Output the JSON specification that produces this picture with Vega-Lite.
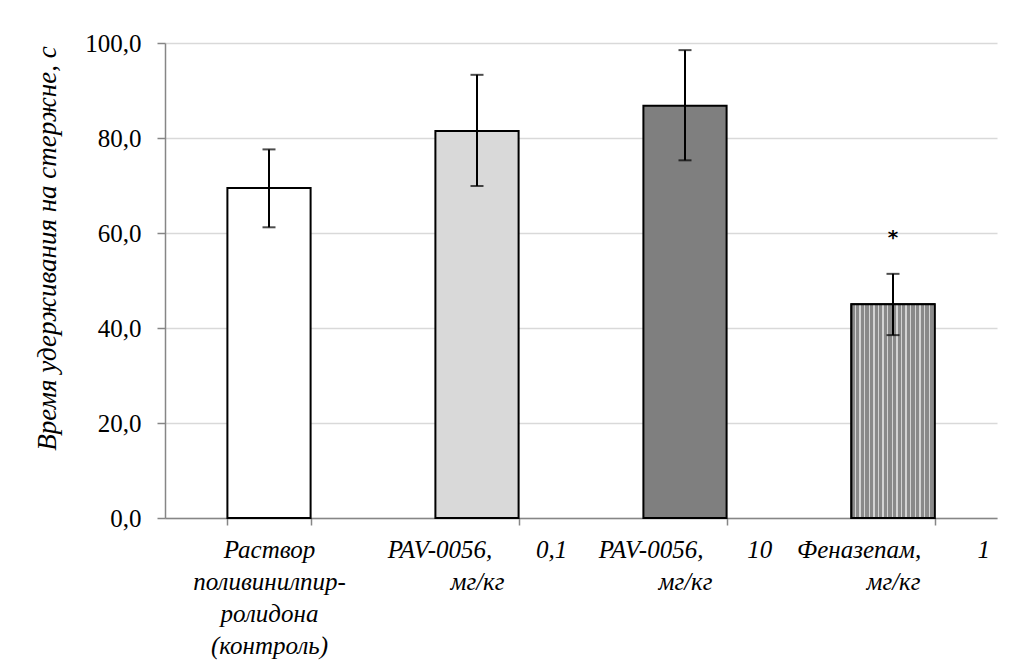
{
  "$schema": "https://vega.github.io/schema/vega-lite/v6.json",
  "width": 832,
  "height": 475,
  "autosize": {"type": "none"},
  "padding": {"left": 165, "top": 43, "right": 16, "bottom": 148},
  "background": "white",
  "data": {
    "values": [
      {"group": "g1", "mean": 69.5, "lo": 61.2, "hi": 77.6, "sig": null},
      {"group": "g2", "mean": 81.5, "lo": 69.9, "hi": 93.3, "sig": null},
      {"group": "g3", "mean": 86.8, "lo": 75.3, "hi": 98.5, "sig": null},
      {"group": "g4", "mean": 45.0, "lo": 38.5, "hi": 51.4, "sig": 60.0}
    ]
  },
  "encoding": {
    "x": {
      "field": "group",
      "type": "nominal",
      "sort": null,
      "scale": {"paddingInner": 0.6, "paddingOuter": 0.3},
      "axis": {
        "title": null,
        "labelExpr": "datum.value == 'g1' ? ['Раствор', 'поливинилпир-', 'ролидона', '(контроль)'] : datum.value == 'g2' ? ['PAV-0056,\u00a0\u00a0\u00a0\u00a0\u00a0\u00a0\u00a00,1', 'мг/кг'] : datum.value == 'g3' ? ['PAV-0056,\u00a0\u00a0\u00a0\u00a0\u00a0\u00a0\u00a010', 'мг/кг'] : datum.value == 'g4' ? ['Феназепам,\u00a0\u00a0\u00a0\u00a0\u00a0\u00a0\u00a0\u00a0\u00a01', 'мг/кг'] : ''",
        "labelAngle": 0,
        "labelFont": "serif",
        "labelFontStyle": "italic",
        "labelFontSize": 25,
        "labelColor": "black",
        "labelLineHeight": 32,
        "labelPadding": 12,
        "labelBaseline": "top",
        "labelLimit": 0,
        "labelOverlap": false,
        "labelBound": false,
        "tickBand": "extent",
        "tickSize": 7,
        "tickColor": "#868686",
        "domainColor": "#868686",
        "domainWidth": 1.5,
        "tickWidth": 1.5,
        "grid": false
      }
    }
  },
  "layer": [
    {
      "mark": {"type": "bar", "stroke": "black", "strokeWidth": 2},
      "encoding": {
        "y": {
          "field": "mean",
          "type": "quantitative",
          "scale": {"domain": [0, 100]},
          "axis": {
            "title": "Время удерживания на стержне, с",
            "titleFontSize": 27,
            "titleColor": "black",
            "titleY": 205,
            "titlePadding": 23,
            "values": [0, 20, 40, 60, 80, 100],
            "labelExpr": "replace(format(datum.value, '.1f'), '.', ',')",
            "labelFont": "Liberation Serif",
            "labelFontSize": 25,
            "labelColor": "black",
            "labelPadding": 16,
            "tickSize": 8,
            "tickColor": "#868686",
            "tickWidth": 1.5,
            "domainColor": "#868686",
            "domainWidth": 1.5,
            "gridColor": "#d9d9d9",
            "gridWidth": 1.5
          }
        },
        "fill": {
          "field": "group",
          "type": "nominal",
          "scale": {"domain": ["g1", "g2", "g3", "g4"], "range": ["#ffffff", "#d9d9d9", "#7f7f7f", "#a3a3a3"]},
          "legend": null
        }
      }
    },
    {
      "transform": [{"filter": "datum.group == 'g4'"}],
      "mark": {
        "type": "bar",
        "stroke": "black",
        "strokeWidth": 2,
        "fill": {
          "gradient": "linear", "x1": 0, "x2": 1, "y1": 0, "y2": 0,
          "stops": [
            {"offset": 0.0, "color": "#8a8a8a"}, {"offset": 0.0389, "color": "#8a8a8a"}, {"offset": 0.0389, "color": "#d4d4d4"}, {"offset": 0.0556, "color": "#d4d4d4"},
            {"offset": 0.0556, "color": "#8a8a8a"}, {"offset": 0.0944, "color": "#8a8a8a"}, {"offset": 0.0944, "color": "#d4d4d4"}, {"offset": 0.1111, "color": "#d4d4d4"},
            {"offset": 0.1111, "color": "#8a8a8a"}, {"offset": 0.15, "color": "#8a8a8a"}, {"offset": 0.15, "color": "#d4d4d4"}, {"offset": 0.1667, "color": "#d4d4d4"},
            {"offset": 0.1667, "color": "#8a8a8a"}, {"offset": 0.2056, "color": "#8a8a8a"}, {"offset": 0.2056, "color": "#d4d4d4"}, {"offset": 0.2222, "color": "#d4d4d4"},
            {"offset": 0.2222, "color": "#8a8a8a"}, {"offset": 0.2611, "color": "#8a8a8a"}, {"offset": 0.2611, "color": "#d4d4d4"}, {"offset": 0.2778, "color": "#d4d4d4"},
            {"offset": 0.2778, "color": "#8a8a8a"}, {"offset": 0.3167, "color": "#8a8a8a"}, {"offset": 0.3167, "color": "#d4d4d4"}, {"offset": 0.3333, "color": "#d4d4d4"},
            {"offset": 0.3333, "color": "#8a8a8a"}, {"offset": 0.3722, "color": "#8a8a8a"}, {"offset": 0.3722, "color": "#d4d4d4"}, {"offset": 0.3889, "color": "#d4d4d4"},
            {"offset": 0.3889, "color": "#8a8a8a"}, {"offset": 0.4278, "color": "#8a8a8a"}, {"offset": 0.4278, "color": "#d4d4d4"}, {"offset": 0.4444, "color": "#d4d4d4"},
            {"offset": 0.4444, "color": "#8a8a8a"}, {"offset": 0.4833, "color": "#8a8a8a"}, {"offset": 0.4833, "color": "#d4d4d4"}, {"offset": 0.5, "color": "#d4d4d4"},
            {"offset": 0.5, "color": "#8a8a8a"}, {"offset": 0.5389, "color": "#8a8a8a"}, {"offset": 0.5389, "color": "#d4d4d4"}, {"offset": 0.5556, "color": "#d4d4d4"},
            {"offset": 0.5556, "color": "#8a8a8a"}, {"offset": 0.5944, "color": "#8a8a8a"}, {"offset": 0.5944, "color": "#d4d4d4"}, {"offset": 0.6111, "color": "#d4d4d4"},
            {"offset": 0.6111, "color": "#8a8a8a"}, {"offset": 0.65, "color": "#8a8a8a"}, {"offset": 0.65, "color": "#d4d4d4"}, {"offset": 0.6667, "color": "#d4d4d4"},
            {"offset": 0.6667, "color": "#8a8a8a"}, {"offset": 0.7056, "color": "#8a8a8a"}, {"offset": 0.7056, "color": "#d4d4d4"}, {"offset": 0.7222, "color": "#d4d4d4"},
            {"offset": 0.7222, "color": "#8a8a8a"}, {"offset": 0.7611, "color": "#8a8a8a"}, {"offset": 0.7611, "color": "#d4d4d4"}, {"offset": 0.7778, "color": "#d4d4d4"},
            {"offset": 0.7778, "color": "#8a8a8a"}, {"offset": 0.8167, "color": "#8a8a8a"}, {"offset": 0.8167, "color": "#d4d4d4"}, {"offset": 0.8333, "color": "#d4d4d4"},
            {"offset": 0.8333, "color": "#8a8a8a"}, {"offset": 0.8722, "color": "#8a8a8a"}, {"offset": 0.8722, "color": "#d4d4d4"}, {"offset": 0.8889, "color": "#d4d4d4"},
            {"offset": 0.8889, "color": "#8a8a8a"}, {"offset": 0.9278, "color": "#8a8a8a"}, {"offset": 0.9278, "color": "#d4d4d4"}, {"offset": 0.9444, "color": "#d4d4d4"},
            {"offset": 0.9444, "color": "#8a8a8a"}, {"offset": 0.9833, "color": "#8a8a8a"}, {"offset": 0.9833, "color": "#d4d4d4"}, {"offset": 1.0, "color": "#d4d4d4"}
          ]
        }
      },
      "encoding": {"y": {"field": "mean", "type": "quantitative"}}
    },
    {
      "mark": {"type": "rule", "color": "black", "strokeWidth": 2},
      "encoding": {
        "y": {"field": "lo", "type": "quantitative"},
        "y2": {"field": "hi"}
      }
    },
    {
      "mark": {"type": "tick", "color": "black", "thickness": 2, "size": 13},
      "encoding": {"y": {"field": "lo", "type": "quantitative"}}
    },
    {
      "mark": {"type": "tick", "color": "black", "thickness": 2, "size": 13},
      "encoding": {"y": {"field": "hi", "type": "quantitative"}}
    },
    {
      "transform": [{"filter": "datum.sig != null"}],
      "mark": {"type": "text", "text": "*", "font": "DejaVu Sans", "fontWeight": "bold", "fontSize": 20, "baseline": "middle", "dy": 5, "color": "black"},
      "encoding": {"y": {"field": "sig", "type": "quantitative"}}
    }
  ],
  "config": {
    "view": {"stroke": null},
    "axis": {"labelFontWeight": "normal"},
    "style": {
      "guide-title": {"font": "Liberation Serif", "fontStyle": "italic", "fontWeight": "normal"}
    }
  }
}
